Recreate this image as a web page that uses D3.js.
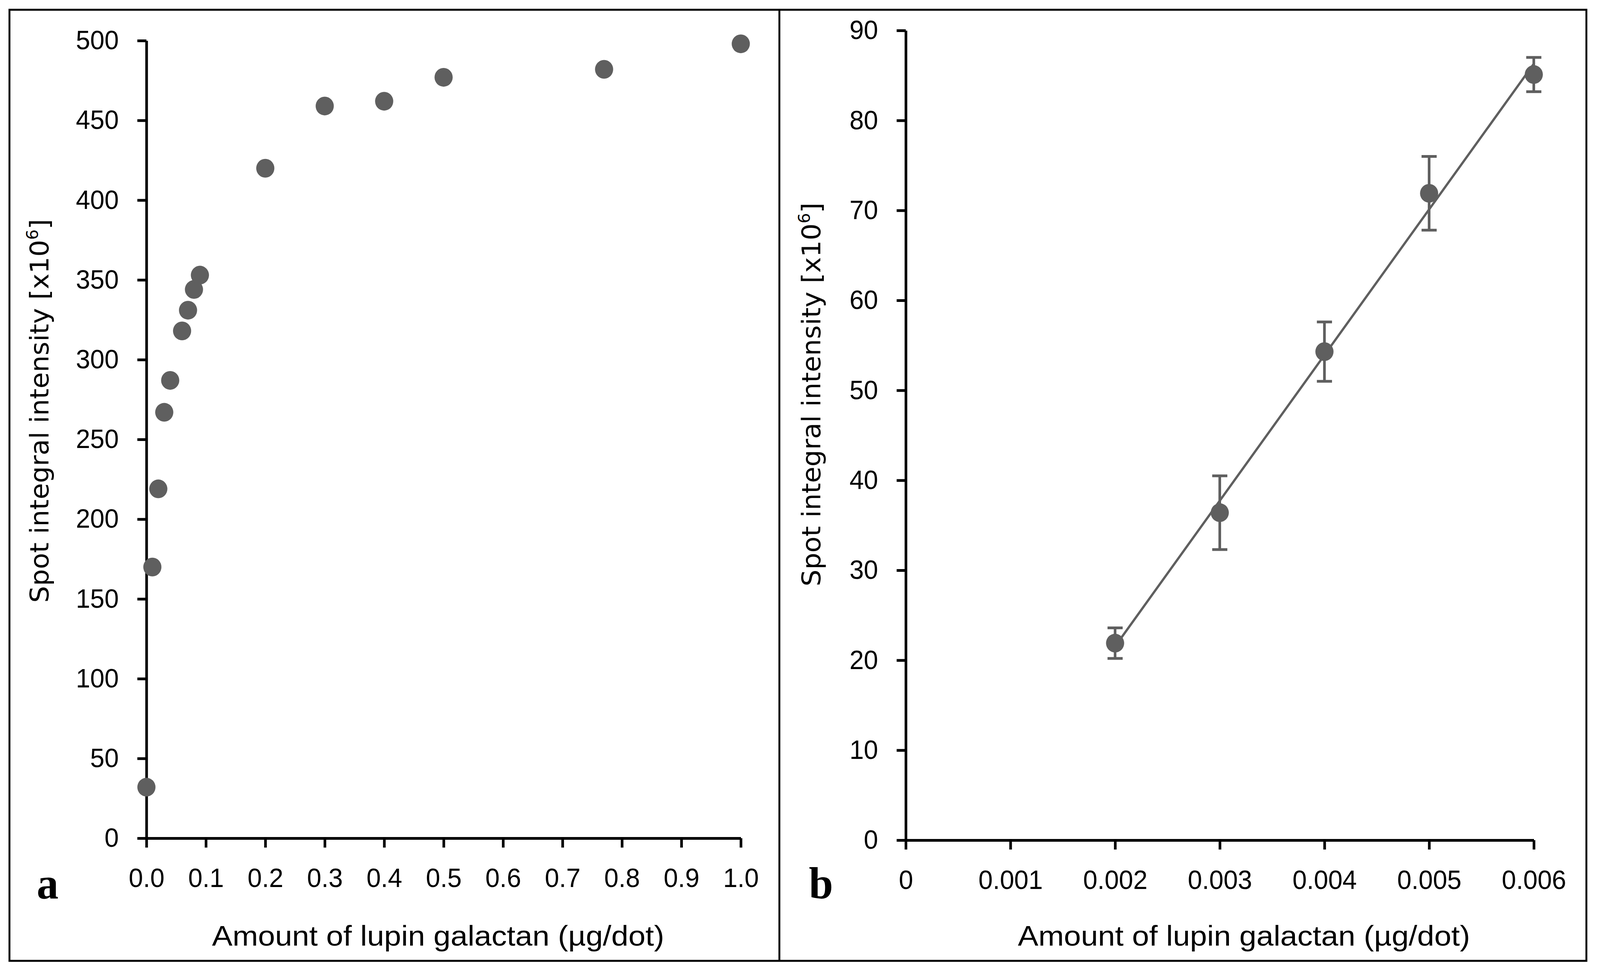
<!DOCTYPE html>
<html>
<head>
<meta charset="utf-8">
<script src="https://cdn.jsdelivr.net/npm/d3@7"></script>
<style>
  html, body { margin: 0; padding: 0; width: 100%; height: 100%; overflow: hidden; background: #fff; }
  svg { display: block; width: 100vw; height: 100vh; }
</style>
</head>
<body>
<svg id="chart" viewBox="0 0 4229 2486" preserveAspectRatio="none"></svg>
<script>
// panel a: saturation curve
var amountA = [0, 0.01, 0.02, 0.03, 0.04, 0.06, 0.07, 0.08, 0.09, 0.2, 0.3, 0.4, 0.5, 0.77, 1.0]
var intensityA = [32, 170, 219, 267, 287, 318, 331, 344, 353, 420, 459, 462, 477, 482, 498]
var xTicksA = [0, 0.1, 0.2, 0.3, 0.4, 0.5, 0.6, 0.7, 0.8, 0.9, 1.0]
var yTicksA = [0, 50, 100, 150, 200, 250, 300, 350, 400, 450, 500]

// panel b: linear range with error bars
var amountB = [0.002, 0.003, 0.004, 0.005, 0.006]
var intensityB = [21.9, 36.4, 54.3, 71.9, 85.1]
var errorB = [1.7, 4.1, 3.3, 4.1, 1.9]
var xTicksB = [0, 0.001, 0.002, 0.003, 0.004, 0.005, 0.006]
var yTicksB = [0, 10, 20, 30, 40, 50, 60, 70, 80, 90]

var xTitle = "Amount of lupin galactan (\u00b5g/dot)"

var grey = "#5f5f5f"
var tickFont = "'Liberation Sans', Arial, sans-serif"
var titleFont = "'DejaVu Sans', Verdana, sans-serif"

var svg = d3.select("#chart")

//* frame round both panels
svg.append("rect")
  .attr("x", 25).attr("y", 25)
  .attr("width", 4168).attr("height", 2435)
  .attr("fill", "none").attr("stroke", "#000").attr("stroke-width", 5)
svg.append("line")
  .attr("x1", 2060).attr("x2", 2060).attr("y1", 25).attr("y2", 2460)
  .attr("stroke", "#000").attr("stroke-width", 5)

function drawAxes(g, x, y, xTicks, yTicks, xFmt) {
  var ax = g.append("g")
    .attr("transform", "translate(0," + y.range()[0] + ")")
    .call(d3.axisBottom(x).tickValues(xTicks).tickFormat(xFmt)
      .tickSize(24).tickSizeOuter(0).tickPadding(53))
  var ay = g.append("g")
    .attr("transform", "translate(" + x.range()[0] + ",0)")
    .call(d3.axisLeft(y).tickValues(yTicks).tickFormat(d3.format("d"))
      .tickSize(24).tickSizeOuter(0).tickPadding(49))
  ;[ax, ay].forEach(function (a) {
    a.attr("font-family", tickFont).attr("font-size", 68)
    a.select(".domain").attr("stroke", "#000").attr("stroke-width", 7)
    a.selectAll(".tick line").attr("stroke", "#000").attr("stroke-width", 7)
    a.selectAll(".tick text").attr("fill", "#000")
  })
}

function yTitle(g, tx, ty) {
  var t = g.append("text")
    .attr("transform", "translate(" + tx + "," + ty + ") rotate(-90)")
    .attr("text-anchor", "middle")
    .attr("font-family", titleFont).attr("font-size", 68).attr("fill", "#000")
  t.append("tspan").text("Spot integral intensity [x10")
  t.append("tspan").attr("font-size", 42).attr("dy", -28).text("6")
  t.append("tspan").attr("dy", 28).text("]")
}

function xLabel(g, cx, by) {
  g.append("text")
    .attr("x", cx).attr("y", by)
    .attr("text-anchor", "middle")
    .attr("font-family", tickFont).attr("font-size", 72)
    .attr("textLength", 1195).attr("lengthAdjust", "spacingAndGlyphs")
    .text(xTitle)
}

function panelLetter(g, lx, by, s) {
  g.append("text")
    .attr("x", lx).attr("y", by)
    .attr("font-family", "'Liberation Serif', 'Times New Roman', serif")
    .attr("font-weight", "bold").attr("font-size", 115)
    .text(s)
}

//* panel a
var gA = svg.append("g")
var xA = d3.scaleLinear().domain([0, 1]).range([387, 1958])
var yA = d3.scaleLinear().domain([0, 500]).range([2146, 104])
drawAxes(gA, xA, yA, xTicksA, yTicksA, d3.format(".1f"))

gA.selectAll("circle.pt")
  .data(amountA)
  .enter()
  .append("circle")
    .attr("class", "pt")
    .attr("cx", function (d) { return xA(d) })
    .attr("cy", function (d, i) { return yA(intensityA[i]) })
    .attr("r", 24)
    .attr("fill", grey)

yTitle(gA, 128, 1052)
xLabel(gA, 1158, 2421)
panelLetter(gA, 97, 2300, "a")

//* panel b
var gB = svg.append("g")
var xB = d3.scaleLinear().domain([0, 0.006]).range([2394, 4054])
var yB = d3.scaleLinear().domain([0, 90]).range([2151, 78])
drawAxes(gB, xB, yB, xTicksB, yTicksB, function (d) { return d === 0 ? "0" : d3.format(".3f")(d) })

// least squares trend line through the points
var mx = d3.mean(amountB), my = d3.mean(intensityB)
var sxy = d3.sum(amountB, function (d, i) { return (d - mx) * (intensityB[i] - my) })
var sxx = d3.sum(amountB, function (d) { return (d - mx) * (d - mx) })
var slope = sxy / sxx, icpt = my - slope * mx
var xExt = d3.extent(amountB)
gB.append("path")
  .datum(xExt)
  .attr("d", d3.line()
    .x(function (d) { return xB(d) })
    .y(function (d) { return yB(slope * d + icpt) }))
  .attr("fill", "none").attr("stroke", grey).attr("stroke-width", 6)

var eb = gB.selectAll("g.err")
  .data(amountB)
  .enter()
  .append("g").attr("class", "err")
  .attr("stroke", grey).attr("stroke-width", 7)
eb.append("line")
  .attr("x1", function (d) { return xB(d) }).attr("x2", function (d) { return xB(d) })
  .attr("y1", function (d, i) { return yB(intensityB[i] - errorB[i]) })
  .attr("y2", function (d, i) { return yB(intensityB[i] + errorB[i]) })
;[-1, 1].forEach(function (s) {
  eb.append("line")
    .attr("x1", function (d) { return xB(d) - 20 }).attr("x2", function (d) { return xB(d) + 20 })
    .attr("y1", function (d, i) { return yB(intensityB[i] + s * errorB[i]) })
    .attr("y2", function (d, i) { return yB(intensityB[i] + s * errorB[i]) })
})

gB.selectAll("circle.pt")
  .data(amountB)
  .enter()
  .append("circle")
    .attr("class", "pt")
    .attr("cx", function (d) { return xB(d) })
    .attr("cy", function (d, i) { return yB(intensityB[i]) })
    .attr("r", 24)
    .attr("fill", grey)

yTitle(gB, 2168, 1010)
xLabel(gB, 3288, 2421)
panelLetter(gB, 2138, 2300, "b")
</script>
</body>
</html>
